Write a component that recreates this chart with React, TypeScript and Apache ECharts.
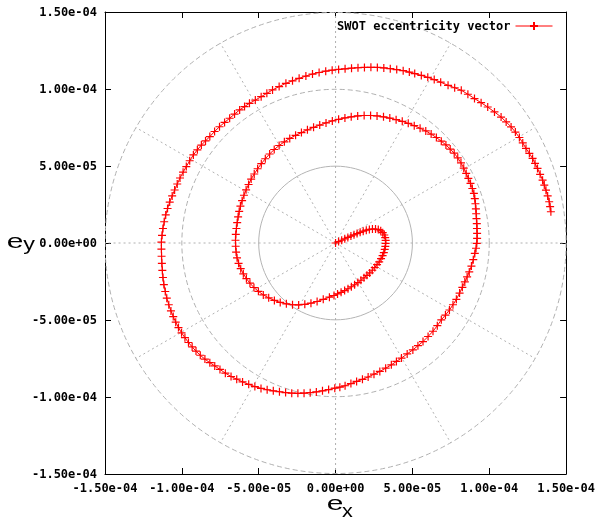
import React, { useEffect, useRef } from "react";
import * as echarts from "echarts";

// Eccentricity vector samples, in units of 1e-5 ([ex, ey])
const UNIT = 1e-5;

const curl: number[][] = [
  [0.0, 0.0], [0.2, 0.09], [0.4, 0.18], [0.6, 0.27], [0.8, 0.36], [1.0, 0.45], [1.2, 0.53], [1.4, 0.61],
  [1.6, 0.69], [1.8, 0.77], [2.0, 0.83], [2.2, 0.88], [2.4, 0.91], [2.6, 0.91], [2.78, 0.87], [2.94, 0.79],
  [3.07, 0.67], [3.17, 0.52], [3.23, 0.35], [3.26, 0.17], [3.26, -0.02], [3.24, -0.22], [3.2, -0.42],
  [3.14, -0.62], [3.06, -0.82], [2.96, -1.02], [2.84, -1.22], [2.7, -1.41], [2.55, -1.59], [2.39, -1.77],
  [2.22, -1.94], [2.04, -2.1], [1.85, -2.26], [1.65, -2.42], [1.45, -2.57], [1.24, -2.71], [1.03, -2.84],
  [0.81, -2.97], [0.59, -3.09], [0.36, -3.2], [0.13, -3.31], [-0.1, -3.41],
];

const innerLoop: number[][] = [
  [-0.4, -3.52], [-0.8, -3.66], [-1.2, -3.8], [-1.6, -3.91], [-2.0, -3.98], [-2.4, -4.02], [-2.8, -4.01],
  [-3.2, -3.95], [-3.6, -3.86], [-3.98, -3.73], [-4.35, -3.56], [-4.7, -3.37], [-5.02, -3.14], [-5.31, -2.89],
  [-5.57, -2.61], [-5.8, -2.31], [-6.0, -2.0], [-6.17, -1.67], [-6.31, -1.32], [-6.41, -0.96], [-6.47, -0.59],
  [-6.5, -0.21], [-6.51, 0.18], [-6.49, 0.56], [-6.45, 0.94], [-6.4, 1.32], [-6.34, 1.7], [-6.27, 2.05],
  [-6.19, 2.4], [-6.08, 2.75], [-5.96, 3.1], [-5.82, 3.45], [-5.66, 3.8], [-5.49, 4.15], [-5.29, 4.48],
  [-5.07, 4.82], [-4.83, 5.15], [-4.57, 5.47], [-4.29, 5.78], [-3.99, 6.07], [-3.67, 6.33], [-3.33, 6.57],
  [-2.98, 6.79], [-2.6, 6.99], [-2.22, 7.17], [-1.83, 7.35], [-1.43, 7.51], [-1.03, 7.66], [-0.62, 7.8],
  [-0.21, 7.93], [0.2, 8.03], [0.61, 8.12], [1.02, 8.19], [1.44, 8.25], [1.86, 8.28], [2.28, 8.28], [2.7, 8.25],
];

const middleLoop: number[][] = [
  [3.12, 8.19], [3.53, 8.11], [3.94, 8.01], [4.34, 7.9], [4.73, 7.77], [5.12, 7.62], [5.5, 7.45], [5.87, 7.28],
  [6.22, 7.07], [6.56, 6.85], [6.88, 6.61], [7.18, 6.37], [7.46, 6.1], [7.72, 5.83], [7.95, 5.53], [8.16, 5.2],
  [8.34, 4.86], [8.5, 4.52], [8.64, 4.19], [8.78, 3.87], [8.9, 3.54], [9.0, 3.22], [9.06, 2.88], [9.1, 2.55],
  [9.13, 2.22], [9.15, 1.9], [9.17, 1.58], [9.19, 1.26], [9.2, 0.94], [9.21, 0.62], [9.21, 0.3], [9.19, -0.02],
  [9.14, -0.34], [9.06, -0.68], [8.96, -1.08], [8.84, -1.5], [8.7, -1.88], [8.56, -2.2], [8.41, -2.53],
  [8.25, -2.88], [8.07, -3.25], [7.86, -3.66], [7.64, -4.01], [7.41, -4.35], [7.15, -4.68], [6.88, -4.99],
  [6.62, -5.37], [6.34, -5.73], [6.02, -6.07], [5.69, -6.4], [5.36, -6.67], [5.03, -6.94], [4.66, -7.2],
  [4.29, -7.47], [3.96, -7.69], [3.63, -7.91], [3.26, -8.13], [2.88, -8.34], [2.5, -8.52], [2.12, -8.7],
  [1.75, -8.85], [1.37, -8.99], [1.0, -9.13], [0.62, -9.27], [0.28, -9.36], [-0.05, -9.43],
];

const outerLoop: number[][] = [
  [-0.45, -9.52], [-0.85, -9.6], [-1.25, -9.67], [-1.65, -9.72], [-2.05, -9.75], [-2.45, -9.76], [-2.85, -9.75],
  [-3.25, -9.71], [-3.65, -9.66], [-4.05, -9.6], [-4.45, -9.53], [-4.85, -9.44], [-5.25, -9.32], [-5.65, -9.18],
  [-6.05, -9.02], [-6.43, -8.84], [-6.8, -8.67], [-7.17, -8.45], [-7.52, -8.21], [-7.86, -7.98], [-8.18, -7.77],
  [-8.5, -7.54], [-8.8, -7.29], [-9.08, -7.02], [-9.33, -6.75], [-9.57, -6.46], [-9.8, -6.15], [-10.02, -5.83],
  [-10.22, -5.49], [-10.4, -5.14], [-10.56, -4.78], [-10.71, -4.41], [-10.85, -4.01], [-10.98, -3.58],
  [-11.08, -3.15], [-11.17, -2.7], [-11.23, -2.24], [-11.27, -1.78], [-11.3, -1.32], [-11.32, -0.86],
  [-11.33, -0.4], [-11.33, 0.06], [-11.29, 0.5], [-11.23, 0.94], [-11.15, 1.38], [-11.05, 1.82], [-10.93, 2.24],
  [-10.79, 2.66], [-10.63, 3.06], [-10.47, 3.44], [-10.3, 3.83], [-10.12, 4.22], [-9.92, 4.6], [-9.71, 4.96],
  [-9.49, 5.34], [-9.25, 5.72], [-8.99, 6.05], [-8.73, 6.36], [-8.46, 6.63], [-8.18, 6.91], [-7.87, 7.24],
  [-7.55, 7.55], [-7.22, 7.83], [-6.89, 8.1], [-6.57, 8.37], [-6.24, 8.64], [-5.92, 8.86], [-5.6, 9.07],
  [-5.22, 9.28], [-4.84, 9.5], [-4.47, 9.72], [-4.1, 9.94], [-3.67, 10.16], [-3.23, 10.37], [-2.8, 10.53],
  [-2.37, 10.69], [-1.93, 10.84], [-1.5, 10.97], [-1.07, 11.07], [-0.64, 11.16], [-0.22, 11.22], [0.2, 11.27],
  [0.62, 11.31], [1.04, 11.35], [1.46, 11.38], [1.88, 11.4], [2.3, 11.41], [2.72, 11.4], [3.14, 11.37],
  [3.56, 11.32], [3.98, 11.26], [4.4, 11.19], [4.8, 11.1], [5.15, 11.0], [5.58, 10.88], [6.0, 10.76],
  [6.42, 10.61], [6.84, 10.44], [7.32, 10.24], [7.75, 10.08], [8.18, 9.92], [8.61, 9.66], [9.04, 9.38],
  [9.47, 9.11], [9.9, 8.83], [10.34, 8.51], [10.77, 8.18], [11.1, 7.86], [11.42, 7.54], [11.7, 7.2],
  [11.96, 6.85], [12.18, 6.5], [12.39, 6.14], [12.61, 5.82], [12.82, 5.49], [12.98, 5.17], [13.14, 4.84],
  [13.31, 4.46], [13.47, 4.08], [13.58, 3.76], [13.69, 3.43], [13.8, 3.06], [13.9, 2.68], [13.96, 2.36],
  [14.01, 2.03],
];

const SERIES_NAME = "SWOT eccentricity vector";
const AXIS_MIN = -1.5e-4;
const AXIS_MAX = 1.5e-4;
const AXIS_STEP = 5e-5;
const gridRadii = [5e-5, 1e-4, 1.5e-4];
const spokeAngles = [0, 30, 60, 90, 120, 150, 180, 210, 240, 270, 300, 330];

const fmt = (v: number) => {
  if (Math.abs(v) < 1e-12) v = 0;
  const s = v.toExponential(2);
  const [m, e] = s.split("e");
  const sign = e[0];
  const d = e.slice(1).padStart(2, "0");
  return `${m}e${sign}${d}`;
};

const LABEL_FONT = { fontFamily: "DejaVu Sans Mono", fontWeight: "bold" as const, fontSize: 12, color: "#000" };

export default function App() {
  const ref = useRef<HTMLDivElement>(null);
  useEffect(() => {
    if (!ref.current) return;
    const chart = echarts.init(ref.current, undefined, { renderer: "svg" });
    const points = [...curl, ...innerLoop, ...middleLoop, ...outerLoop].map((p) => [p[0] * UNIT, p[1] * UNIT]);
    const R = gridRadii[gridRadii.length - 1];
    const spokes = spokeAngles.map((a) => [R * Math.cos((a * Math.PI) / 180), R * Math.sin((a * Math.PI) / 180)]);

    const axisBase = (pos: string, showLabel: boolean) => ({
      type: "value",
      min: AXIS_MIN,
      max: AXIS_MAX,
      interval: AXIS_STEP,
      position: pos,
      axisLine: { show: true, onZero: false, lineStyle: { color: "#000", width: 1 } },
      axisTick: { show: true, inside: true, length: 6, lineStyle: { color: "#000", width: 1 } },
      axisLabel: { show: showLabel, formatter: fmt, margin: 8, ...LABEL_FONT },
      splitLine: { show: false },
    });

    chart.setOption({
      animation: false,
      grid: { left: 105, right: 30, top: 12, bottom: 46, containLabel: false },
      xAxis: [axisBase("bottom", true), axisBase("top", false)],
      yAxis: [axisBase("left", true), axisBase("right", false)],
      legend: {
        data: [SERIES_NAME],
        right: 40,
        top: 15,
        align: "right",
        itemWidth: 37,
        itemHeight: 10,
        lineStyle: { width: 1, color: "#ff0000" },
        textStyle: { ...LABEL_FONT },
      },
      graphic: [
        { type: "text", x: 335, y: 503, scaleX: 1.5, style: { text: "e", fontSize: 20, fontFamily: "Liberation Sans", fill: "#000", textAlign: "center", textVerticalAlign: "middle" } },
        { type: "text", x: 347.5, y: 511, scaleX: 1.2, style: { text: "x", fontSize: 18, fontFamily: "Liberation Sans", fill: "#000", textAlign: "center", textVerticalAlign: "middle" } },
        { type: "text", x: 15, y: 240.5, scaleX: 1.5, style: { text: "e", fontSize: 20, fontFamily: "Liberation Sans", fill: "#000", textAlign: "center", textVerticalAlign: "middle" } },
        { type: "text", x: 29, y: 244, scaleX: 1.3, style: { text: "y", fontSize: 18, fontFamily: "Liberation Sans", fill: "#000", textAlign: "center", textVerticalAlign: "middle" } },
      ],
      series: [
        {
          type: "custom",
          name: "circles",
          silent: true,
          clip: true,
          z: 1,
          data: gridRadii.map((r) => [r, 0]),
          encode: { x: 0, y: 1 },
          renderItem: (params: any, api: any) => {
            const r = api.value(0);
            const c = api.coord([0, 0]);
            const e = api.coord([r, 0]);
            return {
              type: "circle",
              shape: { cx: c[0], cy: c[1], r: e[0] - c[0] },
              style: {
                fill: "none",
                stroke: params.dataIndex === 0 ? "#b4b4b4" : "#b0b0b0",
                lineWidth: 1,
                lineDash: params.dataIndex === 0 ? null : [5, 3],
              },
            };
          },
        },
        {
          type: "custom",
          name: "spokes",
          silent: true,
          clip: true,
          z: 1,
          data: spokes,
          encode: { x: 0, y: 1 },
          renderItem: (params: any, api: any) => {
            const c = api.coord([0, 0]);
            const e = api.coord([api.value(0), api.value(1)]);
            return {
              type: "line",
              shape: { x1: c[0], y1: c[1], x2: e[0], y2: e[1] },
              style: { stroke: "#b0b0b0", lineWidth: 1, lineDash: [2, 3] },
            };
          },
        },
        {
          type: "line",
          name: SERIES_NAME,
          data: points,
          z: 3,
          symbol: "path://M0,5L10,5M5,0L5,10",
          symbolSize: 8,
          showSymbol: true,
          showAllSymbol: true,
          lineStyle: { color: "#ff0000", width: 1 },
          itemStyle: { color: "#ff0000", borderColor: "#ff0000", borderWidth: 1.2 },
        },
      ],
    });
    return () => chart.dispose();
  }, []);
  return <div ref={ref} style={{ position: "fixed", left: 0, top: 0, width: 598, height: 520 }} />;
}
